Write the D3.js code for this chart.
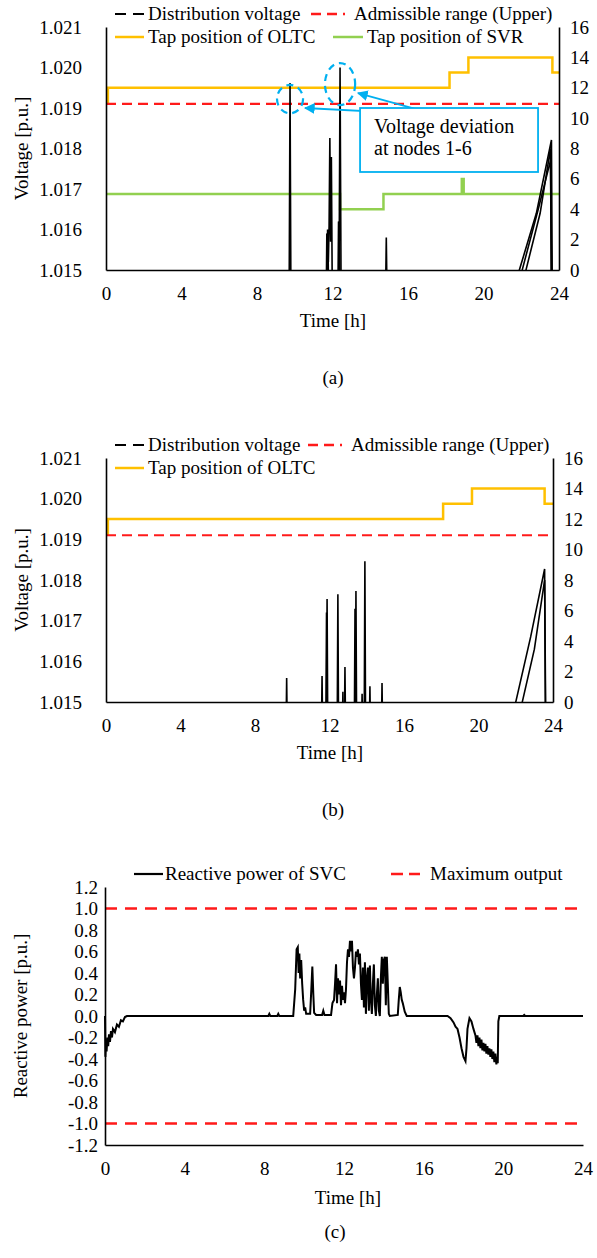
<!DOCTYPE html>
<html>
<head>
<meta charset="utf-8">
<script src="https://cdn.jsdelivr.net/npm/d3@7"></script>
<style>
body { margin: 0; background: #fff; }
text { font-family: "Liberation Serif", "Times New Roman", serif; fill: #000; }
</style>
</head>
<body>
<svg width="597" height="1258"></svg>
<script>
/* ---- data ---- */
var hourTicks = [0, 4, 8, 12, 16, 20, 24];
var voltTicks = [1.015, 1.016, 1.017, 1.018, 1.019, 1.020, 1.021];
var tapTicks = [0, 2, 4, 6, 8, 10, 12, 14, 16];
var reactTicks = [-1.2, -1.0, -0.8, -0.6, -0.4, -0.2, 0.0, 0.2, 0.4, 0.6, 0.8, 1.0, 1.2];
var admissibleUpper = 1.0191;
var maxOutput = [1.0, -1.0];

// (a) tap positions [hour, tap]
var oltcA = [[0, 11], [0.1, 12], [18.2, 13], [19.2, 14], [23.65, 13], [24, 13]];
var svrA = [[0, 5], [12.4, 4], [14.7, 5], [18.85, 6], [18.95, 5], [24, 5]];

// (a) node voltages [hour, p.u.] (values below 1.015 are off the axis)
var voltA1 = [[0, 1.014], [9.70, 1.014], [9.75, 1.01962], [9.80, 1.014], [12.34, 1.014], [12.40, 1.0200], [12.46, 1.014],
  [21.85, 1.014], [21.9, 1.0150], [22.8, 1.0164], [23.6, 1.01821], [23.65, 1.014], [24, 1.014]];
var voltA2 = [[0, 1.014], [11.70, 1.014], [11.74, 1.0160], [11.78, 1.0152], [11.82, 1.0161], [11.86, 1.01826], [11.90, 1.0157],
  [11.94, 1.01779], [11.98, 1.0150], [12.28, 1.014], [12.32, 1.0162], [12.36, 1.0158], [12.42, 1.014],
  [14.80, 1.014], [14.85, 1.0158], [14.90, 1.014], [22.2, 1.014], [22.25, 1.0150], [23.0, 1.0164], [23.55, 1.0180], [23.6, 1.014], [24, 1.014]];
var voltA3 = [[0, 1.014], [11.66, 1.014], [11.70, 1.0159], [11.76, 1.0158], [11.80, 1.014], [22.0, 1.014], [22.05, 1.0150],
  [22.9, 1.0165], [23.55, 1.0177], [23.62, 1.014], [24, 1.014]];

// (b) tap position and node voltages
var oltcB = [[0, 11], [0.1, 12], [18.1, 13], [19.65, 14], [23.55, 13], [24, 13]];
var voltB1 = [[0, 1.014], [9.66, 1.014], [9.70, 1.01559], [9.74, 1.014], [11.56, 1.014], [11.60, 1.01564], [11.64, 1.014],
  [11.83, 1.014], [11.87, 1.01753], [11.91, 1.014], [12.41, 1.014], [12.45, 1.01765], [12.49, 1.014],
  [12.79, 1.014], [12.83, 1.01586], [12.87, 1.014], [13.38, 1.014], [13.42, 1.01773], [13.46, 1.014],
  [13.86, 1.014], [13.90, 1.01846], [13.94, 1.014], [14.13, 1.014], [14.17, 1.01539], [14.21, 1.014],
  [14.78, 1.014], [14.82, 1.01547], [14.86, 1.014],
  [21.95, 1.014], [22.0, 1.0150], [22.8, 1.0166], [23.55, 1.01827], [23.6, 1.014], [24, 1.014]];
var voltB2 = [[0, 1.014], [11.80, 1.014], [11.84, 1.0172], [11.88, 1.014], [12.68, 1.014], [12.72, 1.01525], [12.76, 1.014],
  [13.33, 1.014], [13.37, 1.01729], [13.41, 1.014], [13.71, 1.014], [13.75, 1.0152], [13.79, 1.014],
  [22.3, 1.014], [22.35, 1.0150], [23.0, 1.0163], [23.55, 1.0180], [23.62, 1.014], [24, 1.014]];

// (c) reactive power of SVC [hour, p.u.]
var svcQ = [[0, 0], [0.02, -0.38], [0.05, -0.22], [0.08, -0.33], [0.12, -0.2], [0.16, -0.28], [0.2, -0.17], [0.25, -0.24],
  [0.3, -0.14], [0.35, -0.2], [0.4, -0.12], [0.5, -0.15], [0.6, -0.08], [0.7, -0.1], [0.8, -0.04], [0.9, -0.05], [1.0, -0.01], [1.1, 0],
  [8.2, 0], [8.25, 0.02], [8.3, 0], [8.65, 0], [8.7, 0.02], [8.75, 0],
  [9.45, 0], [9.55, 0.25], [9.62, 0.62], [9.68, 0.64], [9.72, 0.40], [9.76, 0.58], [9.8, 0.35], [9.85, 0.52], [9.9, 0.30],
  [9.95, 0.15], [10.0, 0.05], [10.05, 0.08], [10.1, 0.02], [10.3, 0.02], [10.36, 0.25], [10.41, 0.46], [10.46, 0.2], [10.5, 0.03],
  [10.6, 0.01], [10.9, 0.01], [10.96, 0.05], [11.02, 0.01], [11.35, 0.01], [11.42, 0.12], [11.5, 0.15], [11.55, 0.3], [11.6, 0.48],
  [11.65, 0.12], [11.7, 0.35], [11.75, 0.2], [11.8, 0.33], [11.85, 0.1], [11.9, 0.28], [11.95, 0.15], [12.0, 0.22], [12.05, 0.12],
  [12.1, 0.25], [12.15, 0.5], [12.2, 0.62], [12.25, 0.55], [12.3, 0.7], [12.35, 0.6], [12.4, 0.7], [12.45, 0.45], [12.5, 0.35],
  [12.55, 0.45], [12.6, 0.6], [12.65, 0.55], [12.7, 0.62], [12.75, 0.48], [12.8, 0.58], [12.85, 0.3], [12.9, 0.15], [12.95, 0.45],
  [13.0, 0.08], [13.05, 0.5], [13.1, 0.02], [13.15, 0.35], [13.2, 0.45], [13.25, 0.05], [13.3, 0.47], [13.35, 0.15], [13.4, 0.02],
  [13.45, 0.3], [13.5, 0.48], [13.55, 0.1], [13.6, 0.0], [13.65, 0.2], [13.7, 0.35], [13.75, 0.05], [13.8, 0.0], [13.85, 0.35],
  [13.9, 0.55], [13.95, 0.3], [14.0, 0.52], [14.05, 0.55], [14.1, 0.1], [14.15, 0.55], [14.2, 0.3], [14.25, 0.02], [14.3, 0.0],
  [14.7, 0.01], [14.75, 0.15], [14.8, 0.27], [14.85, 0.22], [14.9, 0.15], [14.95, 0.12], [15.05, 0.04], [15.15, 0.0],
  [17.2, 0], [17.35, -0.02], [17.5, -0.06], [17.6, -0.1], [17.7, -0.12], [17.8, -0.2], [17.9, -0.3], [18.0, -0.38], [18.1, -0.42],
  [18.15, -0.3], [18.2, -0.12], [18.3, -0.02], [18.4, -0.05], [18.5, -0.12], [18.6, -0.18], [18.65, -0.25], [18.7, -0.18],
  [18.75, -0.28], [18.8, -0.2], [18.85, -0.3], [18.9, -0.22], [18.95, -0.32], [19.0, -0.25], [19.05, -0.33], [19.1, -0.26],
  [19.15, -0.35], [19.2, -0.28], [19.25, -0.36], [19.3, -0.3], [19.35, -0.38], [19.4, -0.31], [19.45, -0.4], [19.5, -0.33],
  [19.55, -0.43], [19.6, -0.35], [19.65, -0.45], [19.7, -0.38], [19.72, -0.44], [19.75, -0.05], [19.8, 0],
  [21.0, 0], [21.05, 0.01], [21.1, 0], [24, 0]];

var RED = "#ff1a1a", ORANGE = "#ffc000", GREEN = "#92d050", BLUE = "#00b0f0";

var svg = d3.select("svg");
svg.append("rect").attr("width", 597).attr("height", 1258).attr("fill", "#fff");

function styleAxis(g) {
    g.select(".domain").attr("stroke", "#000").attr("stroke-width", 1.6);
    g.selectAll(".tick line").remove();
    g.selectAll("text").attr("font-size", 19).attr("font-family", "Liberation Serif");
}

/* one voltage/tap panel: (a) and (b) */
function voltPanel(p) {
    var x = d3.scaleLinear().domain([0, 24]).range([p.left, p.right]);
    var y = d3.scaleLinear().domain([1.015, 1.021]).range([p.bottom, p.top]);
    var y2 = d3.scaleLinear().domain([0, 16]).range([p.bottom, p.top]);

    svg.append("clipPath").attr("id", p.id + "clip")
        .append("rect").attr("x", p.left).attr("y", p.top)
        .attr("width", p.right - p.left).attr("height", p.bottom - p.top);

    var plot = svg.append("g").attr("clip-path", "url(#" + p.id + "clip)");

    var vline = d3.line().x(function (d) { return x(d[0]); }).y(function (d) { return y(d[1]); });
    var tline = d3.line().curve(d3.curveStepAfter)
        .x(function (d) { return x(d[0]); }).y(function (d) { return y2(d[1]); });

    if (p.svr) {
        plot.append("path").datum(p.svr).attr("d", tline)
            .attr("fill", "none").attr("stroke", GREEN).attr("stroke-width", 2.5);
    }
    plot.append("path").datum(p.oltc).attr("d", tline)
        .attr("fill", "none").attr("stroke", ORANGE).attr("stroke-width", 2.5);

    plot.append("line")
        .attr("x1", x(0)).attr("x2", x(24))
        .attr("y1", y(admissibleUpper)).attr("y2", y(admissibleUpper))
        .attr("stroke", RED).attr("stroke-width", 2.2).attr("stroke-dasharray", "10,6");

    plot.selectAll(".volt")
        .data(p.volts)
        .enter().append("path")
        .attr("class", "volt")
        .attr("d", vline)
        .attr("fill", "none").attr("stroke", "#000").attr("stroke-width", 1.6);

    // axes
    svg.append("g").attr("transform", "translate(0," + p.bottom + ")")
        .call(d3.axisBottom(x).tickValues(hourTicks).tickSize(0).tickPadding(17).tickFormat(d3.format("d")))
        .call(styleAxis);
    svg.append("g").attr("transform", "translate(" + p.left + ",0)")
        .call(d3.axisLeft(y).tickValues(voltTicks).tickSize(0).tickPadding(24).tickFormat(d3.format(".3f")))
        .call(styleAxis);
    svg.append("g").attr("transform", "translate(" + p.right + ",0)")
        .call(d3.axisRight(y2).tickValues(tapTicks).tickSize(0).tickPadding(11).tickFormat(d3.format("d")))
        .call(styleAxis);

    svg.append("text")
        .attr("transform", "translate(21," + ((p.top + p.bottom) / 2) + ") rotate(-90)")
        .attr("text-anchor", "middle").attr("dy", "0.35em")
        .attr("font-size", 19).text("Voltage [p.u.]");
    svg.append("text").attr("x", p.timeX).attr("y", p.bottom + 57)
        .attr("text-anchor", "middle").attr("font-size", 19).text("Time [h]");
    svg.append("text").attr("x", 333).attr("y", p.bottom + 114)
        .attr("text-anchor", "middle").attr("font-size", 19).text(p.label);

    // legend
    var ly1 = p.top - 13, ly2 = p.top + 10;
    svg.append("line").attr("x1", 115).attr("x2", 144).attr("y1", ly1).attr("y2", ly1)
        .attr("stroke", "#000").attr("stroke-width", 2.2).attr("stroke-dasharray", "11,7");
    svg.append("text").attr("x", 148).attr("y", ly1).attr("dy", "0.33em")
        .attr("font-size", 19).text("Distribution voltage");
    svg.append("line").attr("x1", p.redX).attr("x2", p.redX + 34).attr("y1", ly1).attr("y2", ly1)
        .attr("stroke", RED).attr("stroke-width", 2.5).attr("stroke-dasharray", "10,6");
    svg.append("text").attr("x", p.redX + 43).attr("y", ly1).attr("dy", "0.33em")
        .attr("font-size", 19).text("Admissible range (Upper)");
    svg.append("line").attr("x1", 115).attr("x2", 144).attr("y1", ly2).attr("y2", ly2)
        .attr("stroke", ORANGE).attr("stroke-width", 2.5);
    svg.append("text").attr("x", 148).attr("y", ly2).attr("dy", "0.33em")
        .attr("font-size", 19).text("Tap position of OLTC");
    if (p.svr) {
        svg.append("line").attr("x1", 333).attr("x2", 363).attr("y1", ly2).attr("y2", ly2)
            .attr("stroke", GREEN).attr("stroke-width", 2.5);
        svg.append("text").attr("x", 367).attr("y", ly2).attr("dy", "0.33em")
            .attr("font-size", 19).text("Tap position of SVR");
    }
    return {x: x, y: y};
}

var A = voltPanel({id: "a", left: 106, right: 559, top: 27, bottom: 270, timeX: 333, label: "(a)", redX: 311,
    oltc: oltcA, svr: svrA, volts: [voltA1, voltA2, voltA3]});
var B = voltPanel({id: "b", left: 106, right: 553, top: 458, bottom: 702, timeX: 330, label: "(b)", redX: 308,
    oltc: oltcB, svr: null, volts: [voltB1, voltB2]});

/* annotation on (a): circled deviations and callout box */
var ann = svg.append("g");
[[9.75, 1.01922, 0.69, 0.00035], [12.4, 1.01959, 0.8, 0.00052]].forEach(function (e) {
    ann.append("ellipse")
        .attr("cx", A.x(e[0])).attr("cy", A.y(e[1]))
        .attr("rx", A.x(e[2]) - A.x(0)).attr("ry", A.y(1.015) - A.y(1.015 + e[3]))
        .attr("fill", "none").attr("stroke", BLUE).attr("stroke-width", 2.2).attr("stroke-dasharray", "7,5");
});
svg.append("defs").append("marker").attr("id", "arr")
    .attr("viewBox", "0 0 10 10").attr("refX", 9).attr("refY", 5)
    .attr("markerWidth", 6).attr("markerHeight", 6).attr("orient", "auto")
    .append("path").attr("d", "M0,0L10,5L0,10z").attr("fill", BLUE);
[[10.54, 1.0190], [13.35, 1.01937]].forEach(function (tip) {
    ann.append("line")
        .attr("x1", A.x(17.54)).attr("y1", A.y(1.01883))
        .attr("x2", A.x(tip[0])).attr("y2", A.y(tip[1]))
        .attr("stroke", BLUE).attr("stroke-width", 1.8).attr("marker-end", "url(#arr)");
});
ann.append("rect")
    .attr("x", A.x(13.46)).attr("y", A.y(1.0190))
    .attr("width", A.x(22.89) - A.x(13.46)).attr("height", A.y(1.01742) - A.y(1.0190))
    .attr("fill", "#fff").attr("stroke", BLUE).attr("stroke-width", 1.8);
ann.append("text").attr("x", A.x(14.2)).attr("y", A.y(1.01838))
    .attr("font-size", 20).text("Voltage deviation");
ann.append("text").attr("x", A.x(14.2)).attr("y", A.y(1.01783))
    .attr("font-size", 20).text("at nodes 1-6");

/* (c) reactive power of SVC */
(function () {
    var left = 105, right = 583, top = 887, bottom = 1145;
    var x = d3.scaleLinear().domain([0, 24]).range([left, right]);
    var y = d3.scaleLinear().domain([-1.2, 1.2]).range([bottom, top]);

    svg.selectAll(".maxline")
        .data(maxOutput)
        .enter().append("line")
        .attr("class", "maxline")
        .attr("x1", x(0)).attr("x2", x(24))
        .attr("y1", function (d) { return y(d); }).attr("y2", function (d) { return y(d); })
        .attr("stroke", RED).attr("stroke-width", 2.5).attr("stroke-dasharray", "12,8");

    svg.append("path").datum(svcQ)
        .attr("d", d3.line().x(function (d) { return x(d[0]); }).y(function (d) { return y(d[1]); }))
        .attr("fill", "none").attr("stroke", "#000").attr("stroke-width", 2);

    svg.append("g").attr("transform", "translate(0," + bottom + ")")
        .call(d3.axisBottom(x).tickValues(hourTicks).tickSize(0).tickPadding(17).tickFormat(d3.format("d")))
        .call(styleAxis);
    svg.append("g").attr("transform", "translate(" + left + ",0)")
        .call(d3.axisLeft(y).tickValues(reactTicks).tickSize(0).tickPadding(7)
            .tickFormat(function (d) { return d.toFixed(1); }))
        .call(styleAxis);

    svg.append("text")
        .attr("transform", "translate(20," + ((top + bottom) / 2) + ") rotate(-90)")
        .attr("text-anchor", "middle").attr("dy", "0.35em")
        .attr("font-size", 19).text("Reactive power [p.u.]");
    svg.append("text").attr("x", 348).attr("y", bottom + 59)
        .attr("text-anchor", "middle").attr("font-size", 19).text("Time [h]");
    svg.append("text").attr("x", 335).attr("y", bottom + 93)
        .attr("text-anchor", "middle").attr("font-size", 19).text("(c)");

    var ly = 874;
    svg.append("line").attr("x1", 134).attr("x2", 163).attr("y1", ly).attr("y2", ly)
        .attr("stroke", "#000").attr("stroke-width", 2.2);
    svg.append("text").attr("x", 165).attr("y", ly).attr("dy", "0.33em")
        .attr("font-size", 19).text("Reactive power of SVC");
    svg.append("line").attr("x1", 391).attr("x2", 420).attr("y1", ly).attr("y2", ly)
        .attr("stroke", RED).attr("stroke-width", 2.5).attr("stroke-dasharray", "12,6");
    svg.append("text").attr("x", 430).attr("y", ly).attr("dy", "0.33em")
        .attr("font-size", 19).text("Maximum output");
})();
</script>
</body>
</html>
